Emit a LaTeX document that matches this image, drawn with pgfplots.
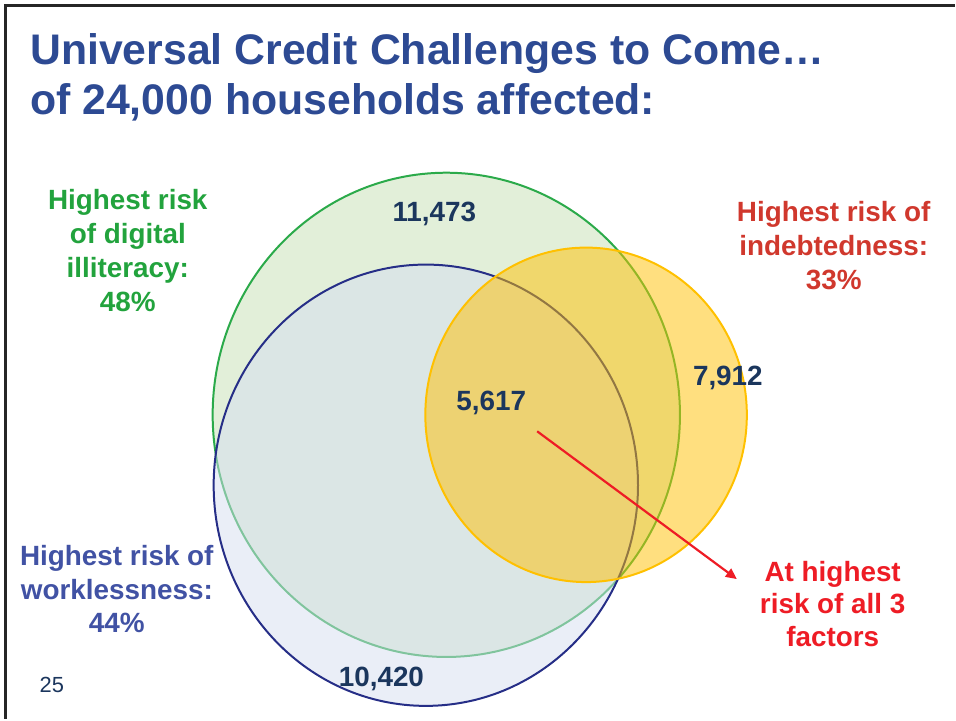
\documentclass[border=0pt]{standalone}
\usepackage{pgfplots}
\pgfplotsset{compat=1.18}
\usepackage{fontspec}
\setmainfont{Liberation Sans}
\usetikzlibrary{arrows.meta}
\definecolor{titleblue}{HTML}{2D4A93}
\definecolor{gline}{HTML}{2BAA4A}
\definecolor{gfill}{HTML}{C5E0B4}
\definecolor{bline}{HTML}{262E87}
\definecolor{bfill}{HTML}{D5DEF0}
\definecolor{yline}{HTML}{FFC000}
\definecolor{yfill}{HTML}{FFC000}
\definecolor{glabel}{HTML}{22A33D}
\definecolor{rlabel}{HTML}{D0382D}
\definecolor{blabel}{HTML}{4152A4}
\definecolor{brred}{HTML}{EE1C25}
\definecolor{numnavy}{HTML}{1B365D}
\begin{document}
\begin{tikzpicture}
\begin{axis}[
  scale only axis, width=956bp, height=720bp,
  xmin=0, xmax=956, ymin=0, ymax=720,
  hide axis, clip=false,
]
\path (axis cs:0,0) rectangle (axis cs:956,720);
% frame
\addplot[color=black!85, line width=3bp, mark=none] coordinates {(6,0) (6,714) (956,714)};
% sets: centre x, centre y, x radius, y radius
\draw[line width=2bp, draw=gline, fill=gfill, fill opacity=0.5] (axis cs:447,304.5) ellipse [x radius=234, y radius=242.5];
\draw[line width=2bp, draw=bline, fill=bfill, fill opacity=0.5] (axis cs:426.5,234) ellipse [x radius=212.5, y radius=221];
\draw[line width=2bp, draw=yline, fill=yfill, fill opacity=0.5] (axis cs:587,304.5) ellipse [x radius=161, y radius=167.5];
% arrow
\addplot[color=brred, line width=2.2bp, mark=none, -{Triangle[length=11bp,width=10bp]}] coordinates {(538,288) (738,140)};
% title
\node[anchor=base west, font=\fontsize{43}{48}\selectfont\bfseries, text=titleblue, inner sep=0] at (axis cs:30,655) {Universal Credit Challenges to Come\ldots};
\node[anchor=base west, font=\fontsize{43}{48}\selectfont\bfseries, text=titleblue, inner sep=0] at (axis cs:30,605) {of 24,000 households affected:};
% labels
\node[align=center, font=\fontsize{28}{34}\selectfont\bfseries, text=glabel] at (axis cs:128,469) {Highest risk\\of digital\\illiteracy:\\48\%};
\node[align=center, font=\fontsize{28}{34}\selectfont\bfseries, text=rlabel] at (axis cs:835,474) {Highest risk of\\indebtedness:\\33\%};
\node[align=center, font=\fontsize{28}{34}\selectfont\bfseries, text=blabel] at (axis cs:117,130) {Highest risk of\\worklessness:\\44\%};
\node[align=center, font=\fontsize{28}{33}\selectfont\bfseries, text=brred] at (axis cs:834,115) {At highest\\risk of all 3\\factors};
% numbers
\node[font=\fontsize{28}{32}\selectfont\bfseries, text=numnavy] at (axis cs:435,506) {11,473};
\node[font=\fontsize{28}{32}\selectfont\bfseries, text=numnavy] at (axis cs:729,341) {7,912};
\node[font=\fontsize{28}{32}\selectfont\bfseries, text=numnavy] at (axis cs:492,316) {5,617};
\node[font=\fontsize{28}{32}\selectfont\bfseries, text=numnavy] at (axis cs:382,40) {10,420};
\node[font=\fontsize{22}{26}\selectfont, text=numnavy] at (axis cs:52,34) {25};
\end{axis}
\end{tikzpicture}
\end{document}
